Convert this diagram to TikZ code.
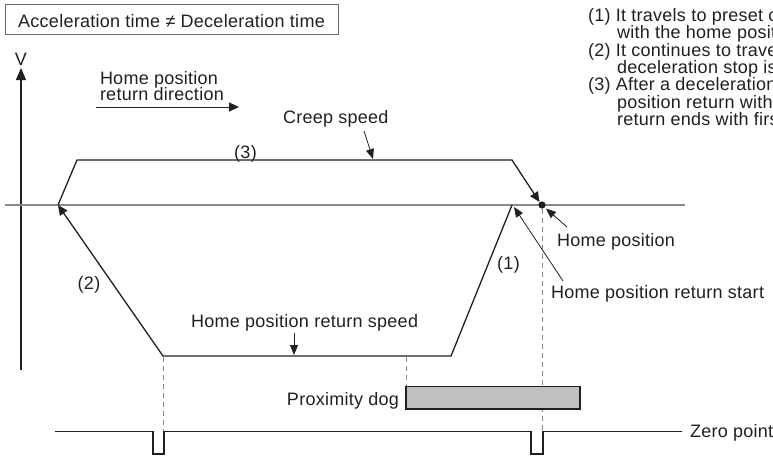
\documentclass[tikz,border=0pt]{standalone}
\usepackage{fontspec}
\setmainfont{Liberation Sans}[LetterSpace=1.5]
\usetikzlibrary{arrows.meta}
\definecolor{ink}{HTML}{231F20}
\definecolor{axisgray}{HTML}{8A8A8A}
\definecolor{boxgray}{HTML}{6A6A6A}
\definecolor{doggray}{HTML}{C0C0C3}
\begin{document}
\begin{tikzpicture}[x=1pt,y=-1pt,
  txt/.style={inner sep=0pt, outer sep=0pt, anchor=base west, text=ink, font=\fontsize{18}{17.3}\selectfont},
  prof/.style={draw=ink, line width=1.3pt, line join=miter},
  tip/.style={-{Triangle[length=10pt,width=9pt]}},
  callout/.style={draw=ink, line width=0.8pt, -{Triangle[length=10pt,width=8pt]}},
  guide/.style={draw=axisgray, line width=1pt, dash pattern=on 5pt off 4pt},
  pulse/.style={draw=ink, line width=1.2pt},
]
\useasboundingbox (0,0) rectangle (773,456);

% title
\node[draw=boxgray, line width=0.9pt, minimum width=333pt, minimum height=30pt, inner sep=0pt] (titlebox) at (171.5,19) {};
\node[txt, anchor=base] (title) at (171.5,27) {Acceleration time ≠ Deceleration time};

% axes
\coordinate (vbot) at (21,370);
\coordinate (vtop) at (21,68);
\draw[draw=ink, line width=1.2pt, -{Triangle[length=12pt,width=10pt]}] (vbot) -- (vtop);
\node[txt, anchor=base] (V) at (21,65) {V};
\coordinate (hl) at (5,205);
\coordinate (hr) at (685,205);
\draw[axisgray, line width=1.5pt] (hl) -- (hr);

% direction
\node[txt] (dir1) at (100,84) {Home position};
\node[txt] (dir2) at (100,100.5) {return direction};
\coordinate (da) at (96,107);
\coordinate (db) at (239,107);
\draw[ink, line width=1pt, tip] (da) -- (db);

% profile points
\coordinate (p0) at (58,205);
\coordinate (c1) at (77,160);
\coordinate (c2) at (512,160);
\coordinate (c3) at (539.5,202);
\coordinate (home) at (542,205);
\coordinate (start) at (512,205);
\coordinate (r1) at (451,356);
\coordinate (r2) at (163,356);

% dashed guides (behind)
\draw[guide] (163,357) -- (163,431);
\draw[guide] (406,357) -- (406,386);
\draw[guide] (542,209) -- (542,431);

% creep profile (3)
\draw[prof, tip] (p0) -- (c1) -- (c2) -- (c3);
\fill[ink] (home) circle (3.6);
% return profile (1),(2)
\draw[prof, tip] (start) -- (r1) -- (r2) -- (p0);

% proximity dog
\draw[draw=ink, line width=1.2pt, fill=doggray] (406,386.5) rectangle (580,409);
\node[txt, anchor=base east] (dog) at (399,405) {Proximity dog};

% zero point signal
\draw[pulse] (55,431.5) -- (153,431.5) -- (153,454) -- (164,454) -- (164,431.5) -- (531,431.5) -- (531,454) -- (543,454) -- (543,431.5) -- (682,431.5);
\node[txt] (zp) at (690,437.5) {Zero point};

% labels
\node[txt] (creep) at (283,123) {Creep speed};
\coordinate (cra) at (364,131);
\coordinate (crb) at (373,159);
\draw[callout] (cra) -- (crb);
\node[txt, anchor=base] (n3) at (245.5,158.5) {(3)};
\node[txt, anchor=base] (n2) at (89,289) {(2)};
\node[txt, anchor=base] (n1) at (508.5,269.5) {(1)};
\node[txt] (rspeed) at (191,327) {Home position return speed};
\coordinate (rsa) at (294,333);
\coordinate (rsb) at (294,355);
\draw[callout] (rsa) -- (rsb);
\node[txt] (hp) at (557,246.5) {Home position};
\coordinate (hpa) at (567,227);
\coordinate (hpb) at (546,208.5);
\draw[callout] (hpa) -- (hpb);
\node[txt] (hprs) at (551,298.5) {Home position return start};
\coordinate (hsa) at (563,281);
\coordinate (hsb) at (514,207);
\draw[callout] (hsa) -- (hsb);

% right column
\node[txt] (d1a) at (588,21.5) {(1) It travels to preset creep};
\node[txt] (d1b) at (617,38.8) {with the home position};
\node[txt] (d2a) at (588,56.1) {(2) It continues to travel};
\node[txt] (d2b) at (617,73.4) {deceleration stop is};
\node[txt] (d3a) at (588,90.7) {(3) After a deceleration};
\node[txt] (d3b) at (617,108) {position return with};
\node[txt] (d3c) at (617,125.3) {return ends with first};
\end{tikzpicture}
\end{document}
